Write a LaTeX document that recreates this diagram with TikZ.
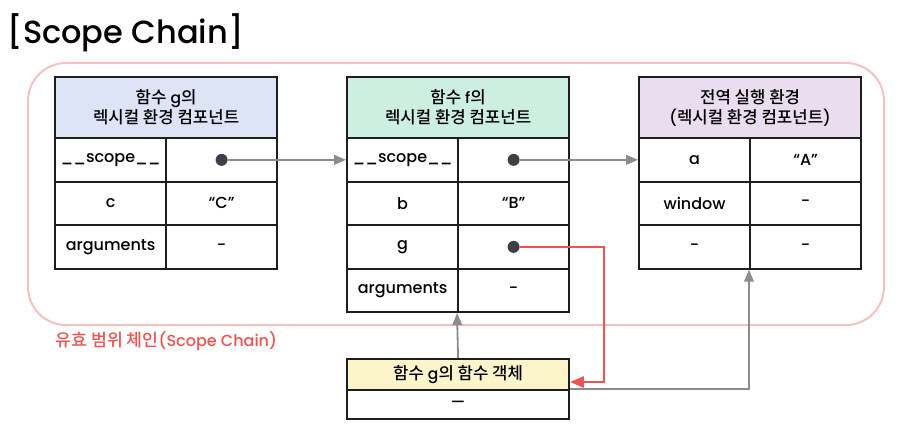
\documentclass[tikz,border=0pt]{standalone}
\usepackage{fontspec}
\setmainfont{Poppins}[UprightFont=* Medium]
\newfontfamily\kr[Scale=1.08, UprightFont=* Medium]{Noto Sans CJK KR}
\newcommand\ko[1]{{\kr #1}}
\usepackage{tikz}
\usetikzlibrary{arrows}

\definecolor{gblue}{HTML}{DCE4F6}
\definecolor{fmint}{HTML}{CCEFE2}
\definecolor{alav}{HTML}{E9DDEF}
\definecolor{oyel}{HTML}{FCF5CC}
\definecolor{pinkc}{HTML}{F3C1C1}
\definecolor{redc}{HTML}{F05252}
\definecolor{arrc}{HTML}{8C8C8C}
\definecolor{dotc}{HTML}{3D4049}
\definecolor{tline}{HTML}{1E1E1E}

\begin{document}
\begin{tikzpicture}[x=1pt, y=-1pt,
  hd/.style={draw=tline, line width=2.2pt, anchor=north west, minimum width=222pt, minimum height=61pt, align=center, inner sep=0pt, font=\fontsize{15.5}{20}\selectfont},
  cl/.style={draw=tline, line width=2.2pt, anchor=north west, minimum width=111pt, minimum height=43.5pt, inner sep=0pt, font=\fontsize{16}{18}\selectfont},
  dot/.style={circle, fill=dotc, minimum size=12pt, inner sep=0pt},
  ln/.style={draw=arrc, line width=1.8pt, -triangle 45},
  redln/.style={draw=redc, line width=2.2pt, -triangle 45}]
\useasboundingbox (0,0) rectangle (898,436);

% title and scope chain frame
\node[anchor=west, font=\fontsize{32}{38}\selectfont] (title) at (4,33) {[Scope Chain]};
\draw[pinkc, line width=2pt, rounded corners=38pt] (28,63) rectangle (884,325);
\node[anchor=west, text=redc, font=\fontsize{16}{18}\selectfont] (chain) at (52,341) {\ko{유효 범위 체인}(Scope Chain)};

% lexical environment of g
\node[hd, fill=gblue] (gH) at (54,76) {\ko{함수} g\ko{의}\\\ko{렉시컬 환경 컴포넌트}};
\node[cl] (gK1) at (54,137) {\_\_scope\_\_};
\node[cl] (gV1) at (165,137) {};
\node[cl] (gK2) at (54,180.5) {c};
\node[cl] (gV2) at (165,180.5) {“C”};
\node[cl] (gK3) at (54,224) {arguments};
\node[cl] (gV3) at (165,224) {-};
\node[dot] (gD) at (gV1.center) {};

% lexical environment of f
\node[hd, fill=fmint] (fH) at (346,76) {\ko{함수} f\ko{의}\\\ko{렉시컬 환경 컴포넌트}};
\node[cl] (fK1) at (346,137) {\_\_scope\_\_};
\node[cl] (fV1) at (457,137) {};
\node[cl] (fK2) at (346,180.5) {b};
\node[cl] (fV2) at (457,180.5) {“B”};
\node[cl] (fK3) at (346,224) {g};
\node[cl] (fV3) at (457,224) {};
\node[cl] (fK4) at (346,267.5) {arguments};
\node[cl] (fV4) at (457,267.5) {-};
\node[dot] (fD1) at (fV1.center) {};
\node[dot] (fD2) at (fV3.center) {};

% global environment
\node[hd, fill=alav] (aH) at (638,76) {\ko{전역 실행 환경}\\(\ko{렉시컬 환경 컴포넌트})};
\node[cl] (aK1) at (638,137) {a};
\node[cl] (aV1) at (749,137) {“A”};
\node[cl] (aK2) at (638,180.5) {window};
\node[cl] (aV2) at (749,180.5) {-};
\node[cl] (aK3) at (638,224) {-};
\node[cl] (aV3) at (749,224) {-};

% function object of g
\node[hd, fill=oyel, minimum height=31pt] (oH) at (346,358) {\ko{함수} g\ko{의 함수 객체}};
\node[hd, minimum height=29pt] (oB) at (346,389) {—};

% links
\draw[ln] (gD) -- (fK1.west);
\draw[ln] (fD1) -- (aK1.west);
\draw[ln] (oH.north) -- (fV4.south west);
\draw[ln] (oB.north east) -| (aV3.south west);
\coordinate (rt) at (604,382);
\draw[redln] (fD2) -| (rt) -- (oH.east |- rt);
\end{tikzpicture}
\end{document}
